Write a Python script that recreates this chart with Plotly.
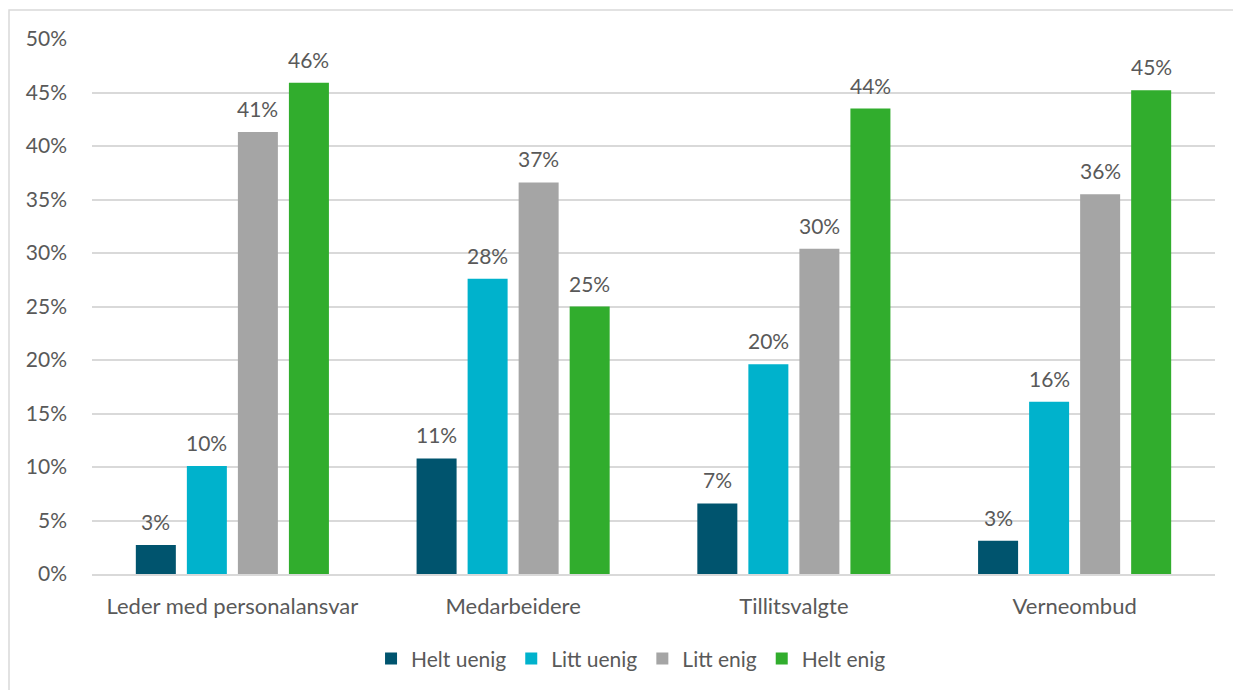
import plotly.graph_objects as go

categories = ["Leder med personalansvar", "Medarbeidere", "Tillitsvalgte", "Verneombud"]
series_names = ["Helt uenig", "Litt uenig", "Litt enig", "Helt enig"]
helt_uenig = [2.7, 10.8, 6.6, 3.1]
litt_uenig = [10.1, 27.6, 19.6, 16.1]
litt_enig = [41.3, 36.6, 30.4, 35.5]
helt_enig = [45.9, 25.0, 43.5, 45.2]
y_ticks = [0, 5, 10, 15, 20, 25, 30, 35, 40, 45, 50]

series_values = [helt_uenig, litt_uenig, litt_enig, helt_enig]
colors = ["#00546E", "#00B2CC", "#A5A5A5", "#31AD2D"]

TEXT = "#595959"
FONT = "Lato, 'Open Sans', sans-serif"
SLOT_PX = 51  # horizontal spacing between bars inside a group

fig = go.Figure()
annotations = []
for i, (name, vals, col) in enumerate(zip(series_names, series_values, colors)):
    fig.add_trace(go.Bar(
        name=name, x=categories, y=vals, marker=dict(color=col, line=dict(width=0)),
    ))
    offset = (i - 1.5) * SLOT_PX
    for cat, v in zip(categories, vals):
        annotations.append(dict(
            x=cat, y=v, xref="x", yref="y", text=f"{round(v):d}%", showarrow=False,
            xshift=offset, yshift=9, yanchor="bottom",
            font=dict(size=21, color=TEXT, family=FONT),
        ))

fig.update_layout(
    width=1233, height=690,
    margin=dict(l=92, r=18, t=39, b=116),
    paper_bgcolor="white", plot_bgcolor="white",
    barmode="group", bargap=0.273, bargroupgap=0.216,
    font=dict(family=FONT, color=TEXT, size=21),
    showlegend=True,
    legend=dict(orientation="h", x=0.48, xanchor="center",
                yref="container", y=0.045, yanchor="middle",
                font=dict(size=21, color=TEXT, family=FONT), itemwidth=30,
                traceorder="normal"),
    annotations=annotations,
    shapes=[dict(type="rect", xref="paper", yref="paper",
                 x0=-0.0739, x1=1.2, y0=-0.3, y1=1.0542,
                 line=dict(color="#D9D9D9", width=1.5), layer="below")],
)
fig.update_yaxes(range=[0, 50], tickvals=y_ticks, ticktext=[f"{v}%" for v in y_ticks],
                 showgrid=True, gridcolor="#D9D9D9", gridwidth=1.5, zeroline=False,
                 showline=False, ticks="", ticklabelstandoff=24, automargin=False,
                 tickfont=dict(size=21, color=TEXT, family=FONT))
fig.update_xaxes(showline=True, linecolor="#D9D9D9", linewidth=1.5, ticks="",
                 automargin=False,
                 tickfont=dict(size=22, color=TEXT, family=FONT), ticklabelstandoff=12)

fig.write_html("out.html")
